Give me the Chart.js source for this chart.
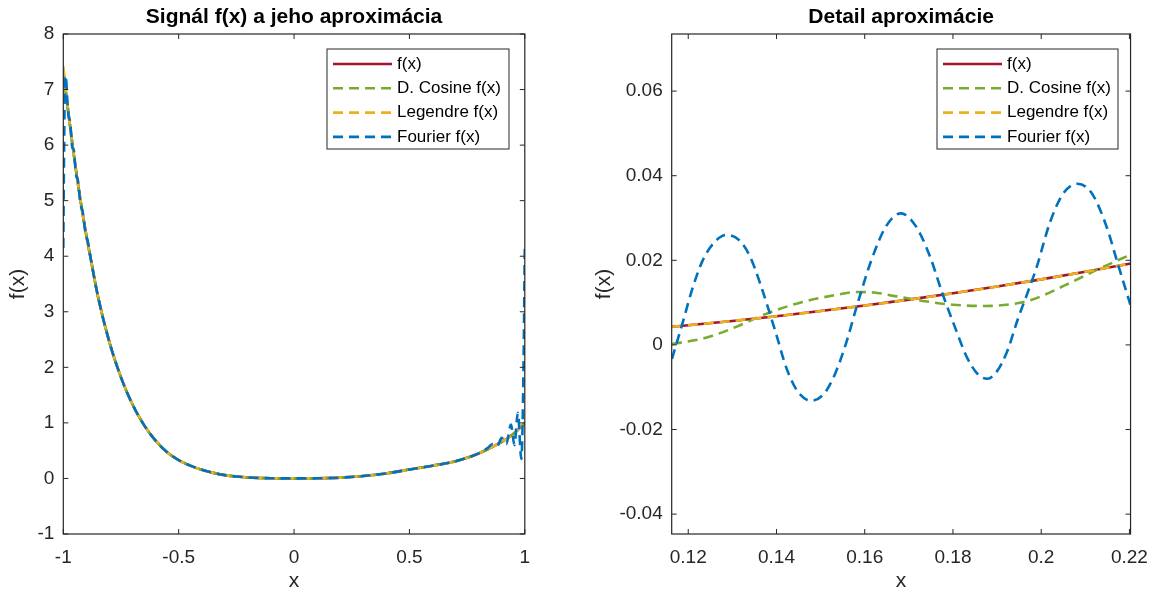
<!DOCTYPE html>
<html>
<head>
<meta charset="utf-8">
<script src="https://cdn.jsdelivr.net/npm/chart.js@4.4.1/dist/chart.umd.min.js"></script>
<style>
  html, body { margin: 0; padding: 0; background: #fff; overflow: hidden; }
  #wrap { position: relative; width: 1160px; height: 593px; }
  canvas { position: absolute; top: 0; }
</style>
</head>
<body>
<div id="wrap">
  <canvas id="overviewChart" width="580" height="593" style="left:0"></canvas>
  <canvas id="detailChart" width="580" height="593" style="left:580px"></canvas>
</div>
<script>
// ---- left panel: whole interval ----
const overviewX = [-1, -0.98, -0.96, -0.94, -0.92, -0.9, -0.88, -0.85, -0.8, -0.75, -0.7, -0.65, -0.6, -0.55, -0.5,
  -0.45, -0.4, -0.35, -0.3, -0.25, -0.2, -0.1, 0, 0.1, 0.2, 0.3, 0.4, 0.5, 0.6, 0.7, 0.8, 0.9, 0.95, 1];
const fOverview = [7.35, 6.65, 6.0, 5.4, 4.86, 4.37, 3.93, 3.28, 2.45, 1.82, 1.33, 0.96, 0.68, 0.47, 0.33,
  0.23, 0.155, 0.1, 0.06, 0.035, 0.018, 0.004, 0.0005, 0.003, 0.015, 0.045, 0.09, 0.16, 0.23, 0.31, 0.45, 0.66, 0.8, 1.0];
const cosineOverview = [7.3, 6.65, 6.0, 5.4, 4.86, 4.37, 3.93, 3.28, 2.45, 1.82, 1.33, 0.96, 0.68, 0.47, 0.33,
  0.23, 0.155, 0.1, 0.06, 0.035, 0.018, 0.004, 0.0005, 0.003, 0.015, 0.045, 0.09, 0.16, 0.23, 0.31, 0.45, 0.66, 0.8, 1.0];
const legendreOverview = [7.42, 6.66, 6.0, 5.4, 4.86, 4.37, 3.93, 3.28, 2.45, 1.82, 1.33, 0.96, 0.68, 0.47, 0.33,
  0.23, 0.155, 0.1, 0.06, 0.035, 0.018, 0.004, 0.0005, 0.003, 0.015, 0.045, 0.09, 0.16, 0.23, 0.31, 0.45, 0.66, 0.8, 1.02];
const fourierOverviewX = [-1, -0.997, -0.994, -0.991, -0.987, -0.982, -0.976, -0.97, -0.962, -0.954, -0.946, -0.936,
  -0.926, -0.916, -0.905, -0.893, -0.88, -0.85, -0.8, -0.75, -0.7, -0.65, -0.6, -0.55, -0.5, -0.45, -0.4, -0.35,
  -0.3, -0.25, -0.2, -0.1, 0, 0.1, 0.2, 0.3, 0.4, 0.5, 0.6, 0.7, 0.8, 0.84, 0.86, 0.88, 0.9, 0.92, 0.94, 0.955,
  0.97, 0.985, 0.993, 1];
const fourierOverview = [4.15, 5.7, 6.85, 7.25, 7.15, 6.75, 6.5, 6.42, 5.98, 5.9, 5.5, 5.35,
  4.95, 4.8, 4.45, 4.25, 3.93, 3.28, 2.45, 1.82, 1.33, 0.96, 0.68, 0.47, 0.33, 0.23, 0.155, 0.1,
  0.06, 0.035, 0.018, 0.004, 0.0005, 0.003, 0.015, 0.045, 0.09, 0.16, 0.23, 0.31, 0.45, 0.55, 0.62, 0.58, 0.73, 0.62, 0.97, 0.6,
  1.18, 0.35, 1.6, 4.15];
const overviewXTicks = [-1, -0.5, 0, 0.5, 1];
const overviewYTicks = [-1, 0, 1, 2, 3, 4, 5, 6, 7, 8];

// ---- right panel: detail ----
const detailX = [0.1163, 0.12, 0.13, 0.14, 0.15, 0.16, 0.17, 0.18, 0.19, 0.2, 0.21, 0.22, 0.2202];
const fDetail = [0.0043, 0.00465, 0.00567, 0.00678, 0.008, 0.0093, 0.0107, 0.0122, 0.0138, 0.0155, 0.0173, 0.0192, 0.01924];
const legendreDetail = [0.0043, 0.00465, 0.00567, 0.00678, 0.008, 0.0093, 0.0107, 0.0122, 0.0138, 0.0155, 0.0173, 0.0192, 0.01924];
const cosineDetailX = [0.1163, 0.124, 0.1307, 0.1373, 0.1457, 0.154, 0.158, 0.162, 0.1665, 0.1732, 0.18, 0.1873,
  0.193, 0.1977, 0.2052, 0.2127, 0.2191, 0.2202];
const cosineDetail = [0.0002, 0.0017, 0.0042, 0.0072, 0.0101, 0.0119, 0.0125, 0.0124, 0.0116, 0.0104, 0.0095, 0.0092,
  0.0096, 0.0106, 0.014, 0.0178, 0.0208, 0.0213];
const fourierDetailX = [0.1163, 0.119, 0.1207, 0.1232, 0.1257, 0.1286, 0.1315, 0.134, 0.1365, 0.1398, 0.1423, 0.1448,
  0.1478, 0.1508, 0.1533, 0.1558, 0.1583, 0.1615, 0.1648, 0.1682, 0.1715, 0.1748, 0.1775, 0.1807, 0.1832, 0.1857,
  0.1878, 0.19, 0.1923, 0.1948, 0.1968, 0.199, 0.202, 0.205, 0.2082, 0.2115, 0.2148, 0.2173, 0.2202];
const fourierDetail = [-0.0033, 0.0062, 0.0125, 0.0198, 0.0240, 0.026, 0.0248, 0.0209, 0.0139, 0.003, -0.0056, -0.011,
  -0.0132, -0.0115, -0.0068, 0.0005, 0.0095, 0.02, 0.028, 0.0311, 0.0282, 0.0209, 0.0125, 0.0035, -0.003, -0.007,
  -0.008, -0.0062, -0.0015, 0.0064, 0.012, 0.0185, 0.029, 0.0358, 0.0381, 0.0358, 0.028, 0.0194, 0.0095];
const detailXTicks = [0.12, 0.14, 0.16, 0.18, 0.2, 0.22];
const detailYTicks = [-0.04, -0.02, 0, 0.02, 0.04, 0.06];

const FONT = '"Liberation Sans", Arial, Helvetica, sans-serif';
const AXIS_COLOR = '#262626';
Chart.defaults.font.family = FONT;

const toPoints = (xs, ys) => xs.map((x, i) => ({ x: x, y: ys[i] }));
const fmtTick = v => String(+Number(v).toFixed(4));

// box with inward ticks, title and legend like a MATLAB axes
const matlabFrame = {
    id: 'matlabFrame',
    afterDatasetsDraw(chart, args, opts) {
        const { ctx, chartArea: a, scales } = chart;
        ctx.save();
        ctx.strokeStyle = AXIS_COLOR;
        ctx.lineWidth = 1;
        ctx.beginPath();
        scales.x.ticks.forEach(t => {
            const px = scales.x.getPixelForValue(t.value);
            ctx.moveTo(px, a.bottom); ctx.lineTo(px, a.bottom - 5);
            ctx.moveTo(px, a.top); ctx.lineTo(px, a.top + 5);
        });
        scales.y.ticks.forEach(t => {
            const py = scales.y.getPixelForValue(t.value);
            ctx.moveTo(a.left, py); ctx.lineTo(a.left + 5, py);
            ctx.moveTo(a.right, py); ctx.lineTo(a.right - 5, py);
        });
        ctx.stroke();
        ctx.lineWidth = 1.2;
        ctx.strokeRect(a.left, a.top, a.right - a.left, a.bottom - a.top);

        ctx.fillStyle = '#000';
        ctx.font = 'bold 21px ' + FONT;
        ctx.textAlign = 'center';
        ctx.textBaseline = 'middle';
        ctx.fillText(opts.title, (a.left + a.right) / 2, 17.6);

        // legend
        const lg = opts.legend;
        ctx.fillStyle = '#fff';
        ctx.fillRect(lg.left, lg.top, lg.width, lg.height);
        ctx.strokeStyle = AXIS_COLOR;
        ctx.lineWidth = 1;
        ctx.strokeRect(lg.left, lg.top, lg.width, lg.height);
        ctx.font = '17px ' + FONT;
        ctx.textAlign = 'left';
        chart.data.datasets.forEach((ds, i) => {
            const y = lg.top + 15 + i * 24.3;
            ctx.strokeStyle = ds.borderColor;
            ctx.lineWidth = ds.borderWidth;
            ctx.setLineDash(ds.borderDash || []);
            ctx.beginPath();
            ctx.moveTo(lg.left + 6, y);
            ctx.lineTo(lg.left + 65, y);
            ctx.stroke();
            ctx.setLineDash([]);
            ctx.fillStyle = '#000';
            ctx.fillText(ds.label, lg.left + 70, y);
        });
        ctx.restore();
    }
};

function makeDatasets(fPts, cosPts, legPts, fouPts) {
    const common = { pointRadius: 0, borderWidth: 2.6, fill: false, cubicInterpolationMode: 'monotone', borderCapStyle: 'butt' };
    return [
        { ...common, label: 'f(x)', data: fPts, borderColor: '#A2142F', order: 3 },
        { ...common, label: 'D. Cosine f(x)', data: cosPts, borderColor: '#77AC30', borderDash: [10, 6], order: 2 },
        { ...common, label: 'Legendre f(x)', data: legPts, borderColor: '#EDB120', borderDash: [10, 6], order: 1 },
        { ...common, label: 'Fourier f(x)', data: fouPts, borderColor: '#0072BD', borderDash: [10, 6], order: 0 }
    ];
}

function makeChart(canvasId, cfg) {
    const ctx = document.getElementById(canvasId).getContext('2d');
    return new Chart(ctx, {
        type: 'line',
        data: { datasets: cfg.datasets },
        options: {
            responsive: false,
            animation: false,
            devicePixelRatio: 1,
            layout: { padding: { left: 0, right: cfg.padRight, top: 34, bottom: 0 } },
            plugins: {
                legend: { display: false },
                tooltip: { enabled: false },
                matlabFrame: { title: cfg.title, legend: cfg.legend }
            },
            scales: {
                x: {
                    type: 'linear',
                    min: cfg.xMin,
                    max: cfg.xMax,
                    afterBuildTicks: s => { s.ticks = cfg.xTicks.map(v => ({ value: v })); },
                    afterFit: s => { s.height = 59; },
                    grid: { display: false, drawTicks: false },
                    border: { display: false },
                    ticks: { font: { size: 19 }, color: AXIS_COLOR, padding: 12, maxRotation: 0, autoSkip: false, callback: fmtTick },
                    title: { display: true, text: 'x', color: AXIS_COLOR, font: { size: 21, lineHeight: 1.15 }, padding: 0 }
                },
                y: {
                    type: 'linear',
                    min: cfg.yMin,
                    max: cfg.yMax,
                    afterBuildTicks: s => { s.ticks = cfg.yTicks.map(v => ({ value: v })); },
                    afterFit: s => { s.width = cfg.yWidth; },
                    grid: { display: false, drawTicks: false },
                    border: { display: false },
                    ticks: { font: { size: 19 }, color: AXIS_COLOR, padding: 9, autoSkip: false, callback: fmtTick },
                    title: { display: true, text: 'f(x)', color: AXIS_COLOR, font: { size: 21 }, padding: { top: cfg.yTitlePad, bottom: 0 } }
                }
            }
        },
        plugins: [matlabFrame]
    });
}

makeChart('overviewChart', {
    datasets: makeDatasets(toPoints(overviewX, fOverview), toPoints(overviewX, cosineOverview),
        toPoints(overviewX, legendreOverview), toPoints(fourierOverviewX, fourierOverview)),
    title: 'Signál f(x) a jeho aproximácia',
    legend: { left: 327, top: 49, width: 182, height: 100 },
    xMin: -1, xMax: 1, yMin: -1, yMax: 8,
    xTicks: overviewXTicks, yTicks: overviewYTicks,
    yWidth: 63.3, padRight: 55.2, yTitlePad: 6
});

makeChart('detailChart', {
    datasets: makeDatasets(toPoints(detailX, fDetail), toPoints(cosineDetailX, cosineDetail),
        toPoints(detailX, legendreDetail), toPoints(fourierDetailX, fourierDetail)),
    title: 'Detail aproximácie',
    legend: { left: 357, top: 49, width: 181, height: 100 },
    xMin: 0.11625, xMax: 0.22025, yMin: -0.0447, yMax: 0.0735,
    xTicks: detailXTicks, yTicks: detailYTicks,
    yWidth: 91.7, padRight: 26.7, yTitlePad: 11.4
});
</script>
</body>
</html>
